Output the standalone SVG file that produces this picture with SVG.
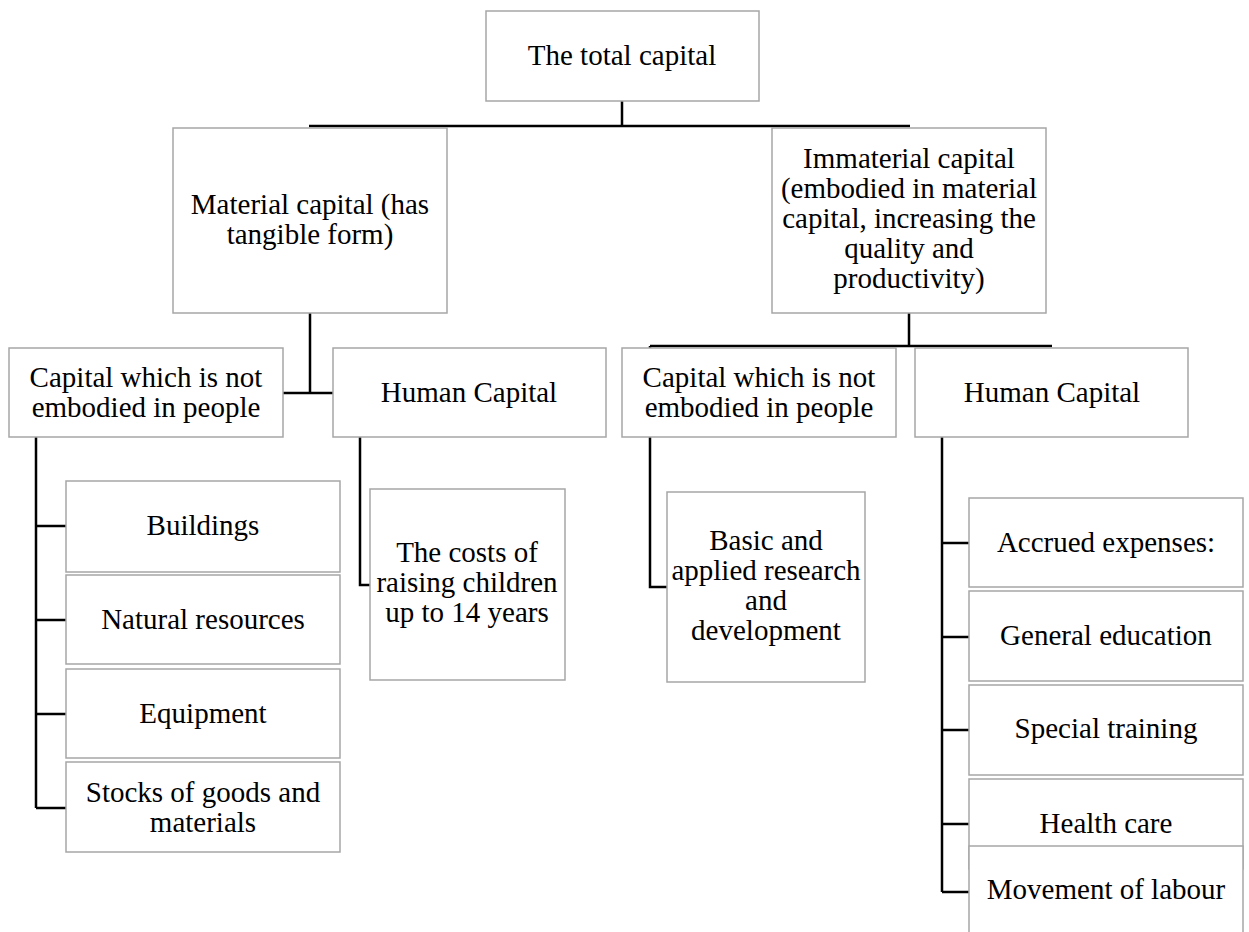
<svg xmlns="http://www.w3.org/2000/svg" width="1249" height="932" viewBox="0 0 1249 932">
<style>
.box{fill:#fff;stroke:#a6a6a6;stroke-width:1.5}
.t{font-family:"Liberation Serif","Times New Roman",serif;font-size:29px;fill:#000;text-anchor:middle}
.c{fill:none;stroke:#000;stroke-width:2.5}
</style>
<rect width="1249" height="932" fill="#fff"/>
<g id="connectors">
<path class="c" d="M622,101 V126 M309,126 H910"/>
<path class="c" d="M310,313 V393 M282,393 H333"/>
<path class="c" d="M909,313 V346 M650,346 H1052"/>
<path class="c" d="M36,437 V808 M36,526 H66 M36,620 H66 M36,714 H66 M36,808 H66"/>
<path class="c" d="M360,437 V585 H370"/>
<path class="c" d="M650,346 V587 H667"/>
<path class="c" d="M942,437 V892 M942,543 H969 M942,637 H969 M942,730 H969 M942,824 H969 M942,892 H969"/>
</g>
<g id="n-total"><rect class="box" x="486" y="11" width="273" height="90"/><text class="t" x="622" y="65">The total capital</text></g>
<g id="n-material"><rect class="box" x="173" y="128" width="274" height="185"/><text class="t" x="310" y="214">Material capital (has</text><text class="t" x="310" y="244">tangible form)</text></g>
<g id="n-immaterial"><rect class="box" x="772" y="128" width="274" height="185"/>
<text class="t" x="909" y="168">Immaterial capital</text><text class="t" x="909" y="198">(embodied in material</text><text class="t" x="909" y="228">capital, increasing the</text><text class="t" x="909" y="258">quality and</text><text class="t" x="909" y="288">productivity)</text></g>
<g id="n-cap1"><rect class="box" x="9" y="348" width="274" height="89"/><text class="t" x="146" y="387">Capital which is not</text><text class="t" x="146" y="417">embodied in people</text></g>
<g id="n-human1"><rect class="box" x="333" y="348" width="273" height="89"/><text class="t" x="469" y="402">Human Capital</text></g>
<g id="n-cap2"><rect class="box" x="622" y="348" width="274" height="89"/><text class="t" x="759" y="387">Capital which is not</text><text class="t" x="759" y="417">embodied in people</text></g>
<g id="n-human2"><rect class="box" x="915" y="348" width="273" height="89"/><text class="t" x="1052" y="402">Human Capital</text></g>
<g id="n-buildings"><rect class="box" x="66" y="481" width="274" height="91"/><text class="t" x="203" y="535">Buildings</text></g>
<g id="n-natural"><rect class="box" x="66" y="575" width="274" height="89"/><text class="t" x="203" y="629">Natural resources</text></g>
<g id="n-equipment"><rect class="box" x="66" y="669" width="274" height="89"/><text class="t" x="203" y="723">Equipment</text></g>
<g id="n-stocks"><rect class="box" x="66" y="762" width="274" height="90"/><text class="t" x="203" y="802">Stocks of goods and</text><text class="t" x="203" y="832">materials</text></g>
<g id="n-costs"><rect class="box" x="370" y="489" width="195" height="191"/><text class="t" x="467" y="562">The costs of</text><text class="t" x="467" y="592">raising children</text><text class="t" x="467" y="622">up to 14 years</text></g>
<g id="n-basic"><rect class="box" x="667" y="492" width="198" height="190"/><text class="t" x="766" y="550">Basic and</text><text class="t" x="766" y="580">applied research</text><text class="t" x="766" y="610">and</text><text class="t" x="766" y="640">development</text></g>
<g id="n-accrued"><rect class="box" x="969" y="498" width="274" height="89"/><text class="t" x="1106" y="552">Accrued expenses:</text></g>
<g id="n-general"><rect class="box" x="969" y="591" width="274" height="90"/><text class="t" x="1106" y="645">General education</text></g>
<g id="n-special"><rect class="box" x="969" y="685" width="274" height="90"/><text class="t" x="1106" y="738">Special training</text></g>
<g id="n-health"><rect class="box" x="969" y="779" width="274" height="90"/><text class="t" x="1106" y="833">Health care</text></g>
<g id="n-movement"><rect class="box" x="969" y="846" width="274" height="100"/><text class="t" x="1106" y="899">Movement of labour</text></g>
</svg>
